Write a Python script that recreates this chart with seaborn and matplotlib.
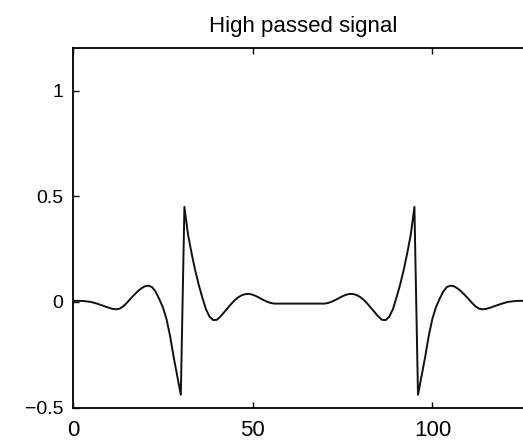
import numpy as np
import pandas as pd
import matplotlib
matplotlib.use("Agg")
import matplotlib.pyplot as plt
import seaborn as sns

# ---- data ----
sample_index = list(range(128))
signal_values = [
    0.005, 0.005, 0.005, 0.004, 0.002, 0.0, -0.005, -0.01, -0.016, -0.022,
    -0.028, -0.033, -0.035, -0.032, -0.021, -0.004, 0.015, 0.033, 0.05, 0.064,
    0.074, 0.077, 0.07, 0.048, 0.014, -0.025, -0.08, -0.16, -0.26, -0.35,
    -0.44, 0.45, 0.32, 0.23, 0.15, 0.08, 0.02, -0.035, -0.07, -0.086,
    -0.085, -0.07, -0.05, -0.03, -0.01, 0.008, 0.022, 0.032, 0.037, 0.038,
    0.034, 0.027, 0.018, 0.009, 0.001, -0.005, -0.008, -0.008, -0.008, -0.008,
    -0.008, -0.008, -0.008, -0.008, -0.008, -0.008, -0.008, -0.008, -0.008, -0.008,
    -0.008, -0.005, 0.001, 0.009, 0.018, 0.027, 0.034, 0.038, 0.037, 0.032,
    0.022, 0.008, -0.01, -0.03, -0.05, -0.07, -0.085, -0.086, -0.07, -0.035,
    0.02, 0.08, 0.15, 0.23, 0.32, 0.45, -0.44, -0.35, -0.26, -0.16,
    -0.08, -0.025, 0.014, 0.048, 0.07, 0.077, 0.074, 0.064, 0.05, 0.033,
    0.015, -0.004, -0.021, -0.032, -0.035, -0.033, -0.028, -0.022, -0.016, -0.01,
    -0.005, 0.0, 0.002, 0.004, 0.005, 0.005, 0.005, 0.005,
]
x_ticks = [0, 50, 100]
x_tick_labels = ["0", "50", "100"]
y_ticks = [-0.5, 0, 0.5, 1]
y_tick_labels = ["\u22120.5", "0", "0.5", "1"]
title_text = "High passed signal"

sns.set_style("ticks")
plt.rcParams["font.family"] = ["Liberation Sans", "DejaVu Sans"]

df = pd.DataFrame({"x": sample_index, "y": signal_values})

fig = plt.figure(figsize=(5.23, 4.43), dpi=100)
ax = fig.add_axes([73 / 523, 1 - 407.5 / 443, 460 / 523, (407.5 - 48.5) / 443])

sns.lineplot(data=df, x="x", y="y", ax=ax, color="#111111", linewidth=1.4)

ax.set_xlim(0, 128)
ax.set_ylim(-0.5, 1.2)
ax.set_xticks(x_ticks)
ax.set_xticklabels(x_tick_labels)
ax.set_yticks(y_ticks)
ax.set_yticklabels(y_tick_labels)
ax.set_xlabel("")
ax.set_ylabel("")

for s in ax.spines.values():
    s.set_visible(True)
    s.set_linewidth(1.3)
    s.set_color("black")

ax.tick_params(axis="x", direction="in", length=4, width=1, top=True, bottom=True,
               labelsize=16, pad=9, colors="black")
ax.tick_params(axis="y", direction="in", length=4, width=1, left=True, right=True,
               labelsize=14, pad=7, colors="black")

ax.set_title(title_text, fontsize=16, pad=12, color="black")

fig.savefig("out.png", dpi=100)
